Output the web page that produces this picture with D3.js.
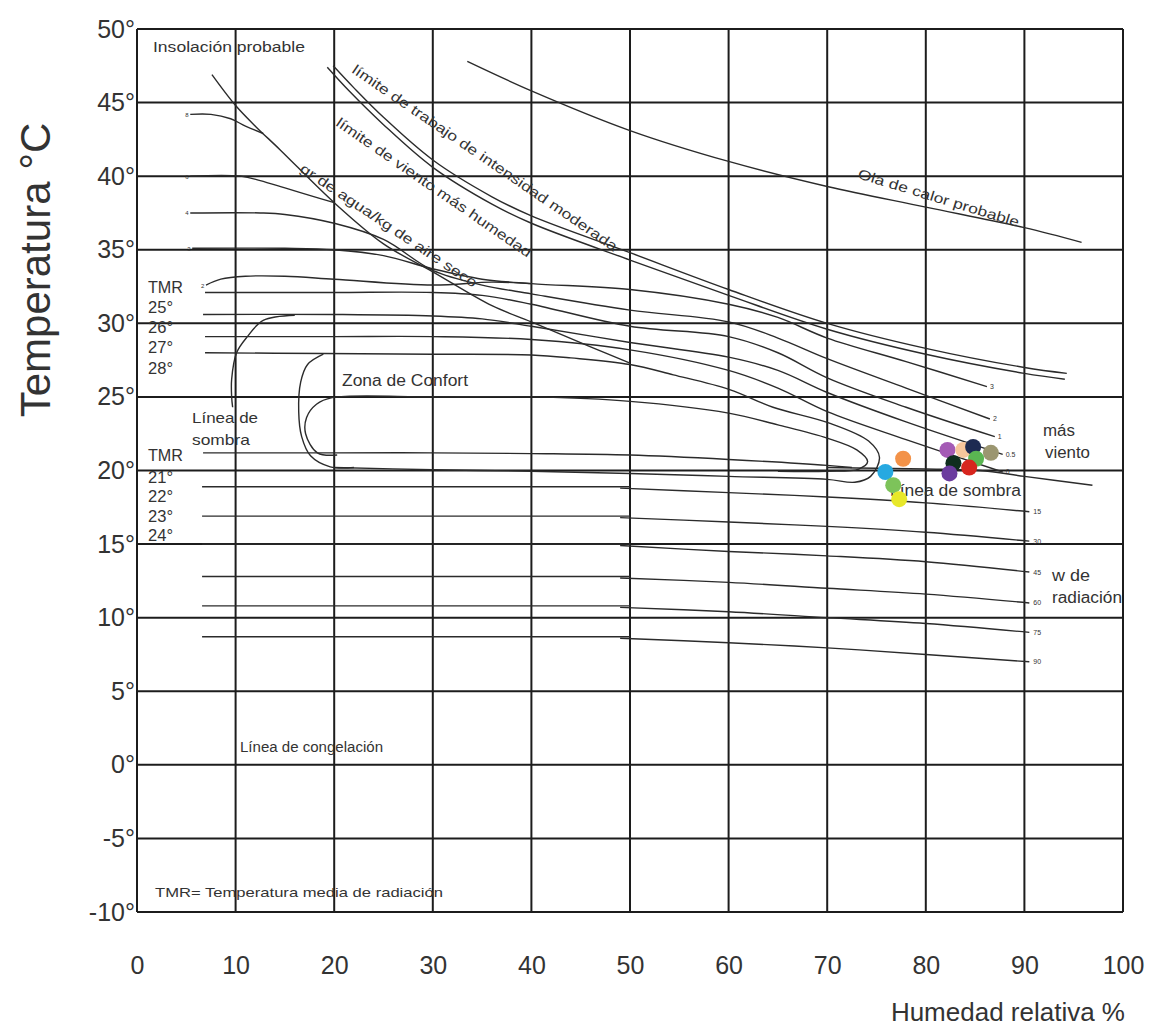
<!DOCTYPE html>
<html><head><meta charset="utf-8">
<script src="https://cdn.jsdelivr.net/npm/d3@7"></script>
<style>body{margin:0;background:#fff}svg text{font-family:"Liberation Sans",Arial,sans-serif}</style>
</head><body><svg id="c" width="1150" height="1034"></svg>
<script>
// ---------- data (humedad relativa %, temperatura °C) ----------
const xTicks = [0,10,20,30,40,50,60,70,80,90,100];
const yTicks = [-10,-5,0,5,10,15,20,25,30,35,40,45,50];
const yTickLabels = ["-10°","-5°","0°","5°","10°","15°","20°","25°","30°","35°","40°","45°","50°"];

const olaCalor = [[33.5,47.8],[40,45.8],[50,43.1],[60,41.0],[70,39.3],[80,37.9],[90,36.5],[95.8,35.5]];
const trabajoA = [[19.9,47.5],[22,46.0],[25,44.0],[30,41.1],[36,38.6],[40,37.3],[50,34.8],[60,32.3],[70,30.0],[80,28.3],[90,27.0],[94.3,26.6]];
const trabajoB = [[19.3,47.4],[21.5,45.8],[25,43.5],[30,40.6],[36,38.1],[40,36.8],[50,34.3],[60,31.9],[70,29.6],[80,27.9],[90,26.6],[94.1,26.2]];
const insolacion = [[7.6,46.9],[10,44.8],[12,43.4],[14.5,41.8],[20,38.2],[25,35.4],[30,33.5],[36,31.2],[40,30.1],[46,28.4],[50,27.3]];
const agua8 = [[5.4,44.2],[7.5,44.2],[9.5,43.9],[11,43.4],[12.8,42.9]];
const agua6 = [[5.4,40.0],[10.5,40.0],[12.5,39.7],[15,39.2],[17.5,38.7],[20,38.2]];
const agua4 = [[5.4,37.5],[12.5,37.5],[15,37.4],[20,36.8],[25,35.7],[30,33.6],[35,32.6],[40,32.0],[50,30.9],[60,30.1],[65,29.0],[70,27.6],[78,25.6],[86.5,23.5]];
const agua3 = [[5.6,35.1],[15,35.1],[20,35.0],[25,34.6],[30,33.7],[35,33.0],[40,32.7],[50,32.3],[60,31.3],[65,30.4],[70,29.0],[78,27.4],[86.2,25.7]];
const agua2 = [[7.0,32.6],[8.5,33.0],[11,33.2],[15,33.2],[20,33.0],[30,32.6],[36,32.8],[40,32.7]];
const tmr25 = [[6.9,32.1],[20,32.1],[30,32.1],[35,31.9],[40,31.3],[50,29.8],[60,29.1],[65,28.0],[70,26.3],[78,24.3],[87,22.3]];
const tmr26 = [[6.7,30.6],[20,30.6],[30,30.5],[35,30.3],[40,29.8],[50,28.7],[60,27.7],[65,26.8],[70,25.3],[78,23.3],[87.8,21.1]];
const tmr27 = [[6.9,29.1],[20,29.1],[30,29.1],[40,28.9],[50,28.2],[60,26.8],[65,25.6],[70,24.0],[78,22.1],[87.8,19.9]];
const confortExt = [[6.9,28.0],[19,27.95],[30,27.9],[40,27.85],[44,27.65],[50,27.2],[54.4,26.5],[60.1,25.5],[64.5,24.3],[70.3,23.2],[74.2,22.0],[75.3,20.9],[74.4,19.6],[72.8,19.2],[70,19.4],[60,19.6],[50,19.8],[40,19.95],[30,20.05],[20,20.2]];
const arcoConfort = [[18.9,27.9],[17.3,27.2],[16.6,26.0],[16.4,24.0],[16.7,22.3],[17.6,21.0],[19.6,20.25],[22,20.2]];
const confortInt = [[20.3,21.05],[18.3,21.2],[17.1,22.5],[17.2,23.6],[18.2,24.5],[19.8,24.95],[30,25.0],[40,25.0],[50,24.7],[60,23.9],[65,23.1],[70,22.2],[73,21.4],[74.1,20.6],[73.2,20.1],[70,19.95],[65,19.95]];
const arcoSombra = [[16,30.55],[12.8,30.2],[11.2,29.1],[10.1,28.0],[9.6,26.2],[9.6,25.0],[9.7,24.3]];
const tmr21 = [[6.7,21.2],[20,21.2],[30,21.2],[40,21.15],[50,21.05],[60,20.75],[70,20.35],[72.5,20.2]];
const lineaSombra = [[70,20.2],[75,20.15],[80,20.1],[85.5,20.0],[90,19.6],[96.9,19.0]];
const radIzq = [18.9,16.9,15.0,12.8,10.8,8.7];
const radDer = [
  [[49,18.8],[60,18.5],[70,18.2],[80,17.8],[90.5,17.2]],
  [[49,16.8],[60,16.5],[70,16.2],[80,15.8],[90.5,15.2]],
  [[49,14.9],[60,14.5],[70,14.2],[80,13.8],[90.5,13.1]],
  [[49,12.7],[60,12.4],[70,12.0],[80,11.6],[90.5,11.0]],
  [[49,10.7],[60,10.4],[70,10.0],[80,9.6],[90.5,9.0]],
  [[49,8.6],[60,8.3],[70,7.95],[80,7.5],[90.5,7.0]]];
const radLabels = ["15","30","45","60","75","90"];
const vientoLabels = ["3","2","1","0.5","0"];
const aguaLabels = ["8","6","4","3","2"];

// observed points
const puntosH = [77.7,75.9,76.7,77.3,82.2,83.8,84.8,86.6,85.1,82.8,84.4,82.4];
const puntosT = [20.8,19.9,19.0,18.05,21.4,21.4,21.6,21.2,20.8,20.5,20.2,19.8];
const puntosC = ["#f39248","#27a9e1","#7dc35a","#e8e82a","#a45bb5","#f7c69c","#1d2a52","#9b9670","#5ab552","#0f2e1e","#d7261e","#6b3c9e"];

// ---------- drawing ----------
const svg = d3.select("#c");
const x = d3.scaleLinear().domain([0,100]).range([137,1123]);
const y = d3.scaleLinear().domain([-10,50]).range([912,29]);

const g = svg.append("g");
g.selectAll("line.v").data(xTicks).join("line")
  .attr("x1",d=>x(d)).attr("x2",d=>x(d)).attr("y1",y(50)).attr("y2",y(-10))
  .attr("stroke","#1c1c1c").attr("stroke-width",2);
g.selectAll("line.h").data(yTicks).join("line")
  .attr("y1",d=>y(d)).attr("y2",d=>y(d)).attr("x1",x(0)).attr("x2",x(100))
  .attr("stroke","#1c1c1c").attr("stroke-width",2);

const ax = svg.append("g").attr("transform",`translate(0,${y(-10)})`)
  .call(d3.axisBottom(x).tickValues(xTicks).tickSize(0).tickPadding(44).tickFormat(d3.format("d")));
ax.select(".domain").remove();
ax.selectAll("text").attr("font-size",25).attr("fill","#333").attr("font-family","Liberation Sans, Arial, sans-serif");
const ay = svg.append("g").attr("transform",`translate(${x(0)},0)`)
  .call(d3.axisLeft(y).tickValues(yTicks).tickSize(0).tickPadding(2).tickFormat((d,i)=>yTickLabels[i]));
ay.select(".domain").remove();
ay.selectAll("text").attr("font-size",25).attr("fill","#333").attr("font-family","Liberation Sans, Arial, sans-serif");

svg.append("text").attr("transform","translate(50,270) rotate(-90)").attr("text-anchor","middle")
  .attr("font-size",42).attr("fill","#333").text("Temperatura °C");
svg.append("text").attr("x",1125).attr("y",1021).attr("text-anchor","end")
  .attr("font-size",26).attr("fill","#333").text("Humedad relativa %");

const curve = d3.line().x(d=>x(d[0])).y(d=>y(d[1])).curve(d3.curveCatmullRom.alpha(0.5));
const lin = d3.line().x(d=>x(d[0])).y(d=>y(d[1]));
const cg = svg.append("g").attr("fill","none").attr("stroke","#2b2b2b").attr("stroke-width",1.4);
[olaCalor,trabajoA,trabajoB,insolacion,agua8,agua6,agua4,agua3,agua2,tmr25,tmr26,tmr27,
 confortExt,arcoConfort,confortInt,arcoSombra,tmr21,lineaSombra].forEach(c=>cg.append("path").attr("d",curve(c)));
radIzq.forEach((t,i)=>{
  cg.append("path").attr("d",lin([[6.6,t],[50,t]]));
  cg.append("path").attr("d",curve(radDer[i]));
});

const sl = svg.append("g").attr("font-size",7).attr("fill","#333");
radDer.forEach((c,i)=>{const e=c[c.length-1];
  sl.append("text").attr("x",x(e[0])+4).attr("y",y(e[1])+2.5).text(radLabels[i]);});
[agua3,agua4,tmr25,tmr26,tmr27].forEach((c,i)=>{const e=c[c.length-1];
  sl.append("text").attr("x",x(e[0])+3).attr("y",y(e[1])+2.5).text(vientoLabels[i]);});
[agua8,agua6,agua4,agua3,agua2].forEach((c,i)=>{const s=c[0];
  sl.append("text").attr("x",x(s[0])-5).attr("y",y(s[1])+2.5).attr("font-size",6).text(aguaLabels[i]);});

const ann = svg.append("g").attr("fill","#333");
function T(txt,xx,yy,fs,len,rot){
  const t=ann.append("text").attr("font-size",fs).text(txt);
  if(rot){t.attr("transform",`translate(${xx},${yy}) rotate(${rot})`);} else {t.attr("x",xx).attr("y",yy);}
  if(len) t.attr("textLength",len).attr("lengthAdjust","spacingAndGlyphs");
  return t;
}
T("Insolación probable",153,52,14,152);
T("límite de trabajo de intensidad moderada",351,72,14,318,34.4);
T("límite de viento más humedad",335,125,14,234,34.6);
T("gr de agua/kg de aire seco",299,171,14,210,33.9);
T("Ola de calor probable",857,178,14,168,17);
T("Zona de Confort",342,386,16,126);
T("Línea de",192,423,15,66);
T("sombra",192,445,15,58);
T("TMR",148,293,16,35); T("25°",148,313,16,25); T("26°",148,333,16,25); T("27°",148,353,16,25); T("28°",148,374,16,25);
T("TMR",148,461,16,35); T("21°",148,483,16,25); T("22°",148,502,16,25); T("23°",148,522,16,25); T("24°",148,541,16,25);
T("más",1043,436,16,32); T("viento",1045,458,16,45);
T("Línea de sombra",890,496,16,131);
T("w de",1052,581,16,38); T("radiación",1052,603,16,70);
T("Línea de congelación",240,752,14,143);
T("TMR= Temperatura media de radiación",155,897,13,288);

svg.append("g").selectAll("circle").data(puntosH).join("circle")
  .attr("cx",d=>x(d)).attr("cy",(d,i)=>y(puntosT[i])).attr("r",8)
  .attr("fill",(d,i)=>puntosC[i]);
</script></body></html>
